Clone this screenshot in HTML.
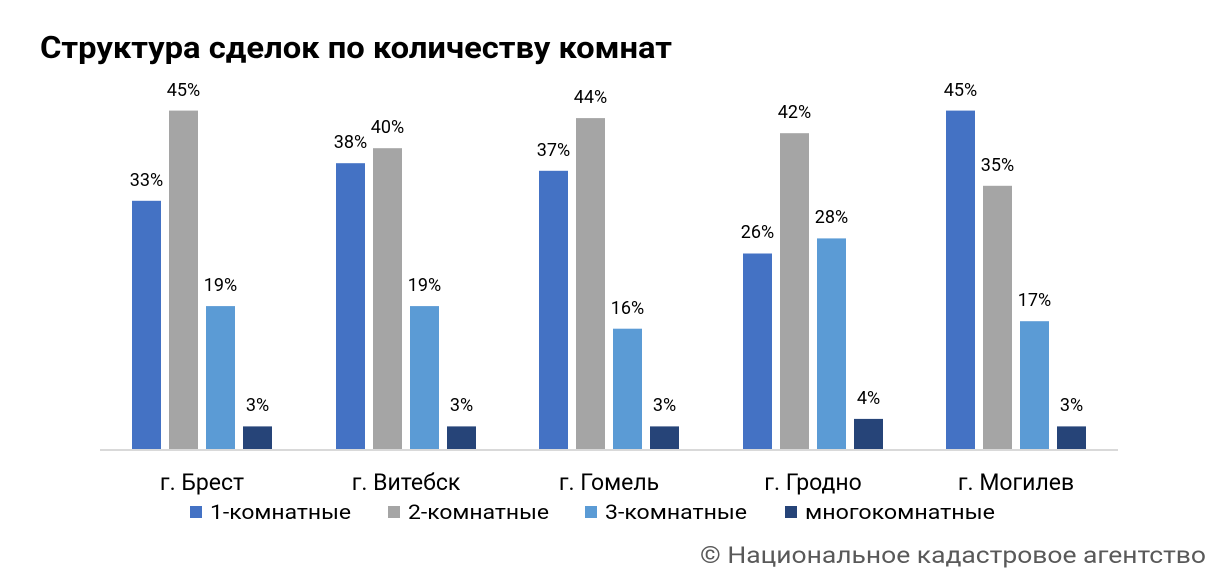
<!DOCTYPE html>
<html><head><meta charset="utf-8"><style>
html,body{margin:0;padding:0;background:#fff;}
svg{display:block;font-family:"Roboto","Liberation Sans",sans-serif;}
</style></head><body>
<svg width="1230" height="584" viewBox="0 0 1230 584" xmlns="http://www.w3.org/2000/svg">
<rect width="1230" height="584" fill="#fff"/>
<text x="40" y="58" font-size="31" font-weight="bold" fill="#000" textLength="632" lengthAdjust="spacingAndGlyphs">Структура сделок по количеству комнат</text>
<line x1="100" y1="450" x2="1118" y2="450" stroke="#d9d9d9" stroke-width="2"/>
<g font-size="18" fill="#000" text-anchor="middle">
<rect x="132" y="200.8" width="29" height="248.2" fill="#4472c4"/>
<rect x="169" y="110.6" width="29" height="338.4" fill="#a5a5a5"/>
<rect x="206" y="306.1" width="29" height="142.9" fill="#5b9bd5"/>
<rect x="243" y="426.4" width="29" height="22.6" fill="#264478"/>
<text x="146.5" y="186">33%</text><text x="183.5" y="96">45%</text><text x="220.5" y="291">19%</text><text x="257.5" y="411">3%</text>
<rect x="336" y="163.2" width="29" height="285.8" fill="#4472c4"/>
<rect x="373" y="148.2" width="29" height="300.8" fill="#a5a5a5"/>
<rect x="410" y="306.1" width="29" height="142.9" fill="#5b9bd5"/>
<rect x="447" y="426.4" width="29" height="22.6" fill="#264478"/>
<text x="350.5" y="148">38%</text><text x="387.5" y="133">40%</text><text x="424.5" y="291">19%</text><text x="461.5" y="411">3%</text>
<rect x="539" y="170.8" width="29" height="278.2" fill="#4472c4"/>
<rect x="576" y="118.1" width="29" height="330.9" fill="#a5a5a5"/>
<rect x="613" y="328.7" width="29" height="120.3" fill="#5b9bd5"/>
<rect x="650" y="426.4" width="29" height="22.6" fill="#264478"/>
<text x="553.5" y="156">37%</text><text x="590.5" y="103">44%</text><text x="627.5" y="314">16%</text><text x="664.5" y="411">3%</text>
<rect x="743" y="253.5" width="29" height="195.5" fill="#4472c4"/>
<rect x="780" y="133.2" width="29" height="315.8" fill="#a5a5a5"/>
<rect x="817" y="238.4" width="29" height="210.6" fill="#5b9bd5"/>
<rect x="854" y="418.9" width="29" height="30.1" fill="#264478"/>
<text x="757.5" y="238">26%</text><text x="794.5" y="118">42%</text><text x="831.5" y="223">28%</text><text x="868.5" y="404">4%</text>
<rect x="946" y="110.6" width="29" height="338.4" fill="#4472c4"/>
<rect x="983" y="185.8" width="29" height="263.2" fill="#a5a5a5"/>
<rect x="1020" y="321.2" width="29" height="127.8" fill="#5b9bd5"/>
<rect x="1057" y="426.4" width="29" height="22.6" fill="#264478"/>
<text x="960.5" y="96">45%</text><text x="997.5" y="171">35%</text><text x="1034.5" y="306">17%</text><text x="1071.5" y="411">3%</text>
</g>
<g font-size="23" fill="#000" text-anchor="middle">
<text x="202" y="490">г. Брест</text>
<text x="406" y="490">г. Витебск</text>
<text x="609" y="490">г. Гомель</text>
<text x="813" y="490">г. Гродно</text>
<text x="1016" y="490">г. Могилев</text>
</g>
<g font-size="20" fill="#000">
<rect x="190" y="506" width="12" height="12" fill="#4472c4"/><text x="210" y="519" textLength="141" lengthAdjust="spacingAndGlyphs">1-комнатные</text>
<rect x="388" y="506" width="12" height="12" fill="#a5a5a5"/><text x="408" y="519" textLength="141" lengthAdjust="spacingAndGlyphs">2-комнатные</text>
<rect x="585" y="506" width="12" height="12" fill="#5b9bd5"/><text x="605" y="519" textLength="142" lengthAdjust="spacingAndGlyphs">3-комнатные</text>
<rect x="785" y="506" width="12" height="12" fill="#264478"/><text x="805" y="519" textLength="190" lengthAdjust="spacingAndGlyphs">многокомнатные</text>
</g>
<text x="700" y="563" font-size="23" fill="#595959" textLength="506" lengthAdjust="spacingAndGlyphs">© Национальное кадастровое агентство</text>
</svg>
</body></html>
